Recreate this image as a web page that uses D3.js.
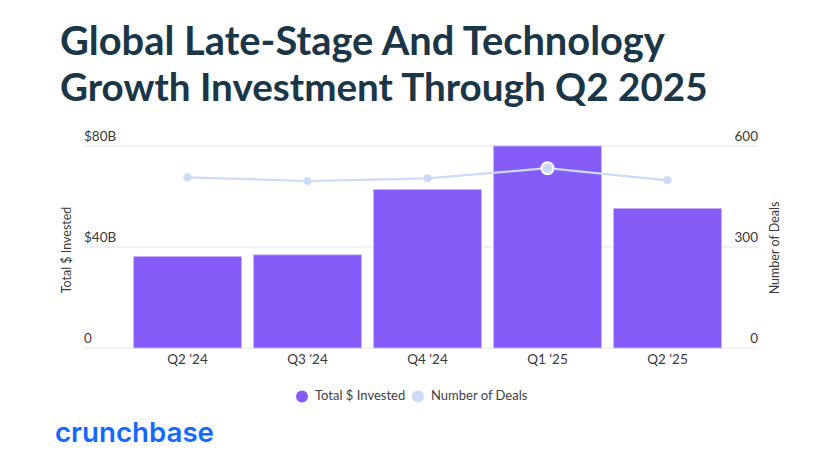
<!DOCTYPE html>
<html><head><meta charset="utf-8">
<script src="https://cdn.jsdelivr.net/npm/d3@7"></script>
<style>
body{margin:0;background:#fff;}
svg{display:block;font-family:Lato,"Open Sans",sans-serif;}
</style></head>
<body><svg id="c" width="828" height="474"></svg>
<script>
const categories = ["Q2 '24","Q3 '24","Q4 '24","Q1 '25","Q2 '25"];
const invested = [36.2, 36.9, 62.8, 80.0, 55.3];   // $B
const deals = [507, 496, 504, 534, 498];
const leftTicks = [0, 40, 80];
const leftTickLabels = ["0", "$40B", "$80B"];
const rightTicks = [0, 300, 600];
const highlighted = "Q1 '25";

const svg = d3.select("#c");
const gridL = 84, gridR = 758, yTop = 146, yBot = 348;

const x = d3.scaleBand().domain(categories).range([127.5, 727.5]).paddingInner(0.1).paddingOuter(0.05);
const yL = d3.scaleLinear().domain([0, 80]).range([yBot, yTop]);
const yR = d3.scaleLinear().domain([0, 600]).range([yBot, yTop]);

function fitText(sel, w){
  const len = sel.node().getComputedTextLength();
  const fs = parseFloat(sel.attr("font-size"));
  sel.attr("font-size", fs * w / len);
}

// Title
const t1 = svg.append("text").attr("x", 60).attr("y", 55).attr("font-size", 36).attr("font-weight", 700)
  .attr("fill", "#1b3647").text("Global Late-Stage And Technology");
fitText(t1, 605);
const t2 = svg.append("text").attr("x", 60).attr("y", 101).attr("font-size", 36).attr("font-weight", 700)
  .attr("fill", "#1b3647").text("Growth Investment Through Q2 2025");
fitText(t2, 648);

// Gridlines
svg.append("g").selectAll("line").data(leftTicks).join("line")
  .attr("x1", gridL).attr("x2", gridR).attr("y1", d => yL(d)).attr("y2", d => yL(d))
  .attr("stroke", "#e6e6ec").attr("stroke-width", 1);

// Left tick labels
svg.append("g").selectAll("text").data(leftTicks).join("text")
  .attr("x", gridL).attr("y", d => yL(d) - 5).attr("font-size", 13.5).attr("fill", "#3a3a3a")
  .text((d, i) => leftTickLabels[i]);
// Right tick labels
svg.append("g").selectAll("text").data(rightTicks).join("text")
  .attr("x", gridR).attr("y", d => yR(d) - 5).attr("text-anchor", "end").attr("font-size", 13.5).attr("fill", "#3a3a3a")
  .text(d => d);

// Axis titles
svg.append("text").attr("transform", "translate(71,250) rotate(-90)").attr("text-anchor", "middle")
  .attr("font-size", 12.5).attr("fill", "#3a3a3a").text("Total $ Invested");
svg.append("text").attr("transform", "translate(779,248) rotate(-90)").attr("text-anchor", "middle")
  .attr("font-size", 12.5).attr("fill", "#3a3a3a").text("Number of Deals");

// Bars
svg.append("g").selectAll("rect").data(categories).join("rect")
  .attr("x", d => x(d)).attr("width", x.bandwidth())
  .attr("y", (d, i) => yL(invested[i])).attr("height", (d, i) => yBot - yL(invested[i]))
  .attr("fill", "#855cf8").attr("stroke", "#c7b3fc").attr("stroke-width", 0.8);

// X labels
svg.append("g").selectAll("text").data(categories).join("text")
  .attr("x", d => x(d) + x.bandwidth() / 2).attr("y", 364).attr("text-anchor", "middle")
  .attr("font-size", 13.5).attr("fill", "#3a3a3a").text(d => d);

// Line
const line = d3.line().x((d, i) => x(categories[i]) + x.bandwidth() / 2).y(d => yR(d));
svg.append("path").datum(deals).attr("d", line).attr("fill", "none")
  .attr("stroke", "#cbdaf6").attr("stroke-width", 2.2);
svg.append("g").selectAll("circle").data(deals).join("circle")
  .attr("cx", (d, i) => x(categories[i]) + x.bandwidth() / 2).attr("cy", d => yR(d))
  .attr("r", (d, i) => categories[i] === highlighted ? 6 : 4)
  .attr("fill", "#cbdaf6")
  .attr("stroke", (d, i) => categories[i] === highlighted ? "#fff" : "none")
  .attr("stroke-width", 2);

// Legend
const legend = [{label: "Total $ Invested", color: "#855cf8", cx: 302, tx: 315},
                {label: "Number of Deals", color: "#cbdaf6", cx: 418, tx: 431}];
const lg = svg.append("g").selectAll("g").data(legend).join("g");
lg.append("circle").attr("cx", d => d.cx).attr("cy", 396.5).attr("r", 6).attr("fill", d => d.color);
lg.append("text").attr("x", d => d.tx).attr("y", 399.5).attr("font-size", 13).attr("fill", "#3f3f46").text(d => d.label);

// Logo
const logo = svg.append("text").attr("x", 55).attr("y", 442).attr("font-size", 27).attr("font-weight", 600)
  .attr("fill", "#146aff").attr("font-family", "Inter, 'Open Sans', sans-serif").text("crunchbase");
fitText(logo, 159);
</script></body></html>
